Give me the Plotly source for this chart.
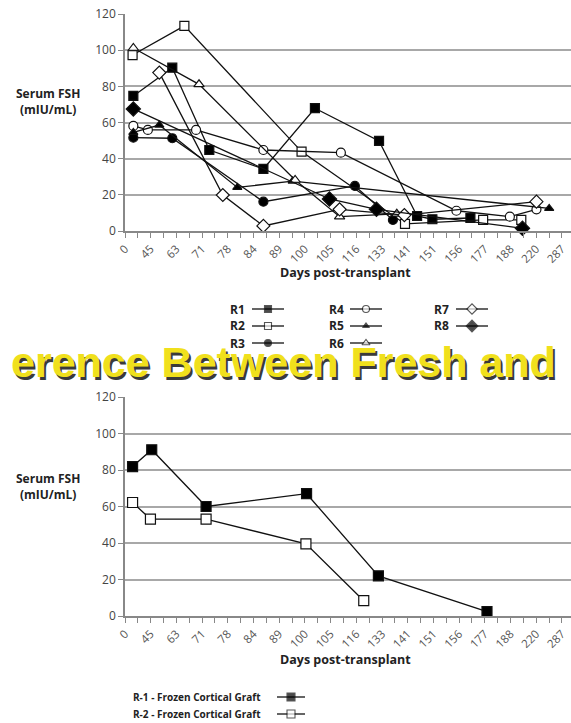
import plotly.graph_objects as go

W, H = 571, 723

# ---- axis categories (tick labels, placed on every other tick position) ----
tick_labels = ["0", "45", "63", "71", "78", "84", "89", "100", "105", "116",
               "133", "141", "151", "156", "177", "188", "220", "287"]

# ---- top chart series: x = position along the axis (tick units), y = FSH ----
r1_x = [0.65, 3.68, 6.56, 10.77, 14.78, 19.77, 22.73, 23.92, 26.88]
r1_y = [74.7, 90.3, 44.8, 34.3, 67.9, 49.8, 8.3, 6.5, 7.2]
r2_x = [0.59, 4.62, 13.74, 21.79, 27.87, 30.84]
r2_y = [97.3, 113.4, 43.9, 3.9, 6.1, 6.1]
r3_x = [0.65, 3.68, 10.77, 17.89, 20.85]
r3_y = [51.6, 51.3, 16.2, 24.9, 6.1]
r4_x = [0.65, 1.78, 5.53, 10.77, 16.80, 25.79, 29.95, 32.02]
r4_y = [58.1, 55.9, 55.9, 44.8, 43.3, 11.2, 7.9, 12.0]
r5_x = [0.65, 2.67, 8.74, 13.05, 33.01]
r5_y = [54.5, 58.6, 24.1, 27.6, 12.5]
r6_x = [0.65, 5.76, 13.24, 16.70, 21.15]
r6_y = [101.2, 81.1, 28.2, 7.9, 9.5]
r7_x = [2.67, 7.61, 10.77, 16.70, 21.74, 32.02]
r7_y = [87.6, 19.9, 2.8, 12.0, 8.8, 16.2]
r8_x = [0.65, 15.91, 19.57, 30.93]
r8_y = [67.5, 17.7, 12.0, 1.5]

# ---- bottom chart series ----
f1_x = [0.59, 2.08, 6.31, 14.13, 19.72, 28.17]
f1_y = [81.9, 91.1, 60.0, 67.0, 22.0, 2.4]
f2_x = [0.59, 1.98, 6.31, 14.08, 18.58]
f2_y = [62.2, 53.1, 53.1, 39.5, 8.4]

top_names = ["R1", "R2", "R3", "R4", "R5", "R6", "R7", "R8"]
bottom_names = ["R-1 - Frozen Cortical Graft", "R-2 - Frozen Cortical Graft"]

banner_text = "erence Between Fresh and"

# ---- styles ----
sym = {
    "R1": ("square", "black", 9), "R2": ("square", "white", 9),
    "R3": ("circle", "black", 9), "R4": ("circle", "white", 9),
    "R5": ("triangle-up", "black", 8), "R6": ("triangle-up", "white", 9),
    "R7": ("diamond", "white", 10), "R8": ("diamond", "black", 11),
}
FONT = "Open Sans"

fig = go.Figure()

top_series = [(r1_x, r1_y), (r2_x, r2_y), (r3_x, r3_y), (r4_x, r4_y),
              (r5_x, r5_y), (r6_x, r6_y), (r7_x, r7_y), (r8_x, r8_y)]
for name, (xs, ys) in zip(top_names, top_series):
    s, c, sz = sym[name]
    fig.add_trace(go.Scatter(
        x=xs, y=ys, mode="lines+markers", name=name, xaxis="x", yaxis="y",
        line=dict(color="#111", width=1.3), cliponaxis=False,
        marker=dict(symbol=s, color=c, size=sz, line=dict(color="#111", width=1.2)),
        showlegend=False))

bsym = [("square", "black"), ("square", "white")]
for name, (xs, ys), (s, c) in zip(bottom_names, [(f1_x, f1_y), (f2_x, f2_y)], bsym):
    fig.add_trace(go.Scatter(
        x=xs, y=ys, mode="lines+markers", name=name, xaxis="x2", yaxis="y2",
        line=dict(color="#111", width=1.3), cliponaxis=False,
        marker=dict(symbol=s, color=c, size=10, line=dict(color="#111", width=1.2)),
        showlegend=False))

# ---- manual legends (text left, key right) on a pixel overlay axis ----
annotations = []
col_text_x = [228, 327, 432]
col_key_x = [252, 350, 456]
row_y = [309, 326, 343]
for i, name in enumerate(top_names):
    col, row = i // 3, i % 3
    s, c, sz = sym[name]
    kx, ky = col_key_x[col], row_y[row]
    fig.add_trace(go.Scatter(
        x=[kx, kx + 16, kx + 32], y=[ky, ky, ky], mode="lines+markers",
        xaxis="x3", yaxis="y3", showlegend=False, hoverinfo="skip",
        line=dict(color="#111", width=1.3),
        marker=dict(symbol=s, color=c, size=[0, sz - 2, 0],
                    line=dict(color="#111", width=1.1))))
    annotations.append(dict(x=col_text_x[col] / W, y=1 - ky / H, xref="paper", yref="paper",
                            text="<b>%s</b>" % name, showarrow=False, xanchor="left",
                            yanchor="middle", font=dict(family=FONT, size=12, color="#222")))

brow_y = [697, 714]
for i, name in enumerate(bottom_names):
    s, c = bsym[i]
    ky = brow_y[i]
    fig.add_trace(go.Scatter(
        x=[277, 291, 305], y=[ky, ky, ky], mode="lines+markers",
        xaxis="x3", yaxis="y3", showlegend=False, hoverinfo="skip",
        line=dict(color="#111", width=1.3),
        marker=dict(symbol=s, color=c, size=[0, 8, 0], line=dict(color="#111", width=1.1))))
    annotations.append(dict(x=263 / W, y=1 - ky / H, xref="paper", yref="paper",
                            text="<b>%s</b>" % name, showarrow=False, xanchor="right",
                            yanchor="middle", font=dict(family=FONT, size=10, color="#222")))

# ---- axis titles ----
for ytop in (102, 486):
    annotations.append(dict(x=48 / W, y=1 - ytop / H, xref="paper", yref="paper",
                            text="<b>Serum FSH</b><br><b>(mIU/mL)</b>", showarrow=False,
                            xanchor="center", yanchor="middle", align="center",
                            font=dict(family=FONT, size=12, color="#222")))
for yt in (272, 659):
    annotations.append(dict(x=345 / W, y=1 - yt / H, xref="paper", yref="paper",
                            text="<b>Days post-transplant</b>", showarrow=False,
                            xanchor="center", yanchor="middle",
                            font=dict(family=FONT, size=12.5, color="#222")))

# ---- banner (shadow + yellow) ----
for dx, dy, col in [(2.5, 2.5, "#3a3a3a"), (0, 0, "#F0E01C")]:
    annotations.append(dict(x=(283 + dx) / W, y=1 - (362 + dy) / H, xref="paper", yref="paper",
                            text="<b>%s</b>" % banner_text, showarrow=False,
                            xanchor="center", yanchor="middle",
                            font=dict(family="Liberation Sans", size=43, color=col)))

UNIT = 12.85  # pixels per tick step
tickvals = [2 * i for i in range(len(tick_labels))]
xcommon = dict(range=[0, (W - 125) / UNIT], tickmode="array", tickvals=tickvals,
               ticktext=tick_labels,
               tickangle=-45, ticks="outside", ticklen=5, tickcolor="#888", showgrid=False,
               showline=True, linecolor="#888", linewidth=1.5, zeroline=False, automargin=False,
               tickfont=dict(family=FONT, size=11.5, color="#555"),
               minor=dict(dtick=1, tick0=0, ticks="outside", ticklen=5, tickcolor="#888"))
ycommon = dict(range=[0, 120], dtick=20, tick0=0, showgrid=True, gridcolor="#a8a8a8",
               gridwidth=1.5, showline=True, linecolor="#888", linewidth=1.5, automargin=False,
               ticks="outside", ticklen=5, tickcolor="#888", zeroline=False,
               tickfont=dict(family=FONT, size=12, color="#444"))

fig.update_layout(
    template="none",
    width=W, height=H, margin=dict(l=0, r=0, t=0, b=0, pad=0, autoexpand=False),
    paper_bgcolor="white", plot_bgcolor="rgba(0,0,0,0)", showlegend=False,
    xaxis=dict(domain=[125 / W, 1], anchor="y", **xcommon),
    yaxis=dict(domain=[1 - 231 / H, 1 - 14 / H], anchor="x", **ycommon),
    xaxis2=dict(domain=[125 / W, 1], anchor="y2", **xcommon),
    yaxis2=dict(domain=[1 - 616 / H, 1 - 397 / H], anchor="x2", **ycommon),
    xaxis3=dict(domain=[0, 1], range=[0, W], visible=False, anchor="y3", automargin=False),
    yaxis3=dict(domain=[0, 1], range=[H, 0], visible=False, anchor="x3", automargin=False),
    annotations=annotations,
)

fig.write_html(
    "out.html",
    config={"displayModeBar": False},
    post_script="document.body.style.margin='0';document.body.style.overflow='hidden';"
                "document.documentElement.style.overflow='hidden';",
)
